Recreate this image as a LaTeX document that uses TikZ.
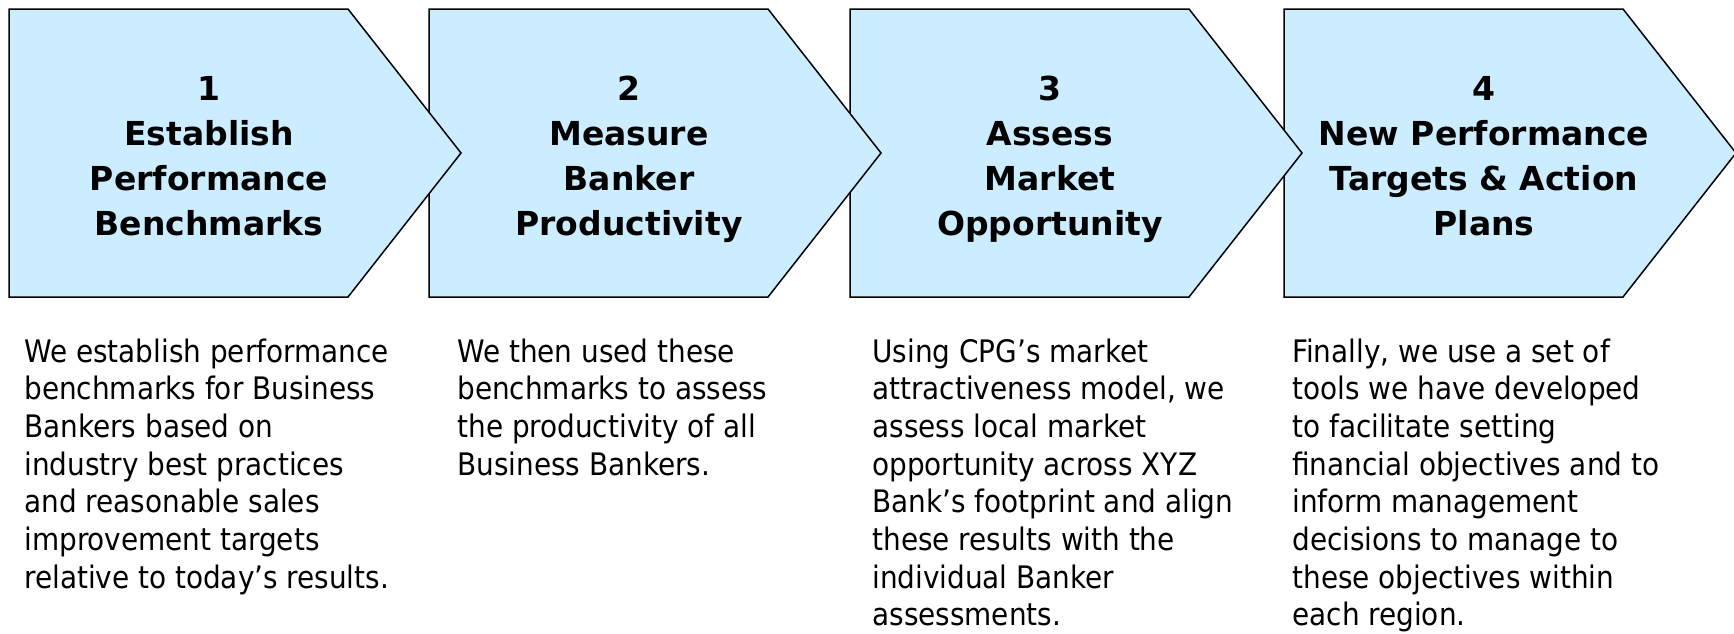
\documentclass[tikz,border=0pt]{standalone}
\usepackage{fontspec}
\setmainfont{DejaVu Sans}
\newfontfamily\bodyfont{DejaVu Sans Condensed}
\definecolor{chevfill}{HTML}{CCECFF}
\tikzset{
  chevshape/.style={draw=black, fill=chevfill, line width=0.75pt, line join=miter},
  titletext/.style={anchor=base, inner sep=0pt},
  bodytext/.style={anchor=base west, inner sep=0pt}
}
% one process chevron: left edge at #1
\newcommand\chevronat[1]{%
  \draw[chevshape] (#1,9) -- ++(339,0) -- ++(113,144) -- ++(-113,144) -- ++(-339,0) -- cycle;}
\newcommand\titlebox[1]{\parbox[t]{220pt}{\centering\bfseries\fontsize{16.5}{22.5}\selectfont #1}}
\newcommand\bodybox[1]{\parbox[t]{220pt}{\raggedright\bodyfont\fontsize{15.5}{18.85}\selectfont #1}}
\begin{document}
\begin{tikzpicture}[x=0.5pt,y=-0.5pt]
\useasboundingbox (0,0) rectangle (1734,633);
% chevrons, later steps first so each earlier tip lies on top
\chevronat{1284}
\chevronat{850}
\chevronat{429}
\chevronat{9}
% step titles
\node[titletext] (t1) at (209,100) {\titlebox{1\\Establish\\Performance\\Benchmarks}};
\node[titletext] (t2) at (629,100) {\titlebox{2\\Measure\\Banker\\Productivity}};
\node[titletext] (t3) at (1050,100) {\titlebox{3\\Assess\\Market\\Opportunity}};
\node[titletext] (t4) at (1484,100) {\titlebox{4\\New Performance\\Targets \& Action\\Plans}};
% descriptions
\node[bodytext] (d1) at (24,362) {\bodybox{We establish performance\\benchmarks for Business\\Bankers based on\\industry best practices\\and reasonable sales\\improvement targets\\relative to today’s results.}};
\node[bodytext] (d2) at (457,362) {\bodybox{We then used these\\benchmarks to assess\\the productivity of all\\Business Bankers.}};
\node[bodytext] (d3) at (872,362) {\bodybox{Using CPG’s market\\attractiveness model, we\\assess local market\\opportunity across XYZ\\Bank’s footprint and align\\these results with the\\individual Banker\\assessments.}};
\node[bodytext] (d4) at (1292,362) {\bodybox{Finally, we use a set of\\tools we have developed\\to facilitate setting\\financial objectives and to\\inform management\\decisions to manage to\\these objectives within\\each region.}};
\end{tikzpicture}
\end{document}
